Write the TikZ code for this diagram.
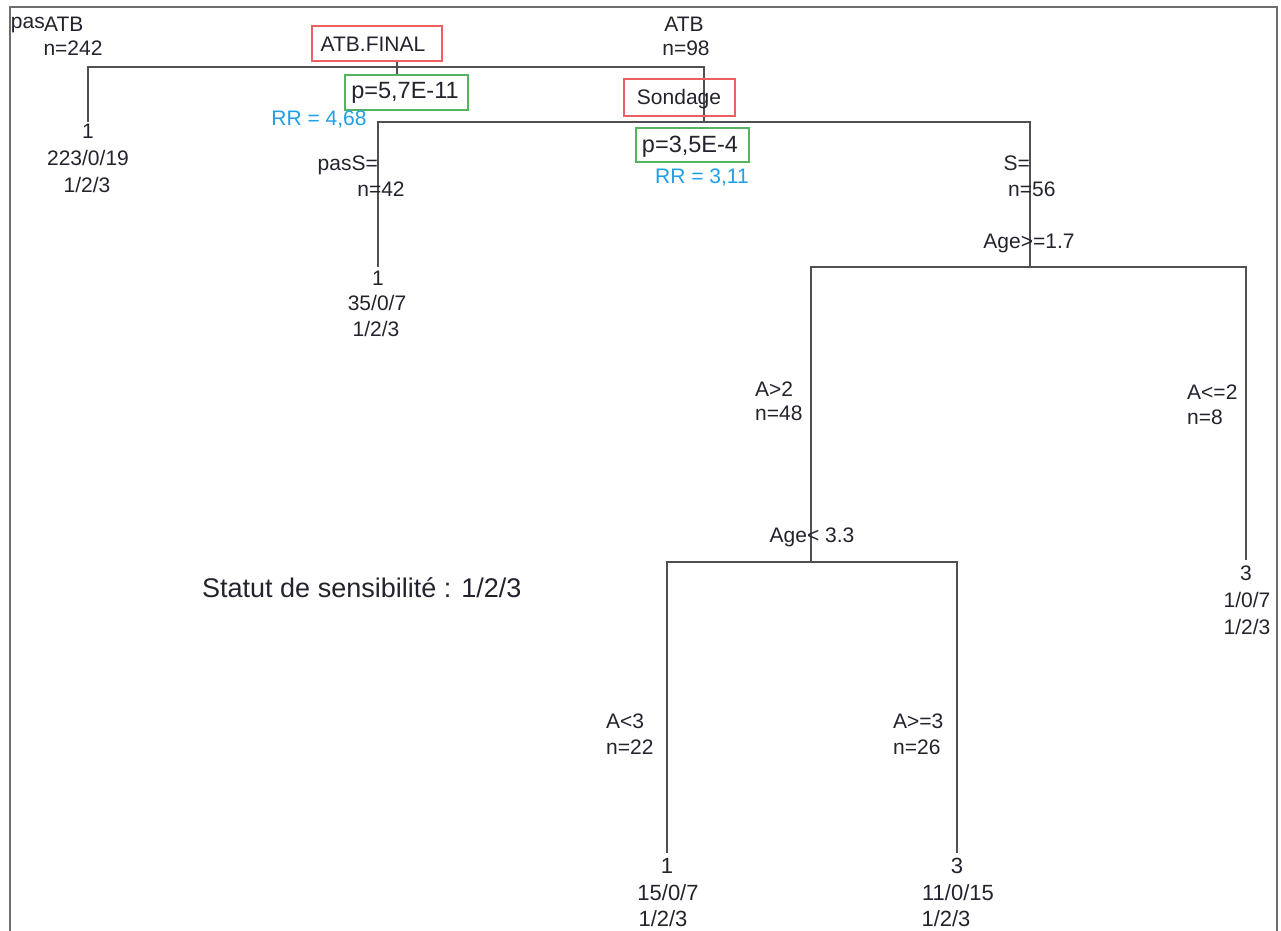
\documentclass[tikz,border=0pt]{standalone}
\usepackage{fontspec}
\setmainfont{Liberation Sans}
\begin{document}
\begin{tikzpicture}[x=1pt,y=-1pt,
  txt/.style={inner sep=0pt,text=txtc,font=\fontsize{21}{24}\selectfont},
  ptxt/.style={inner sep=0pt,text=txtc,font=\fontsize{23.5}{26}\selectfont},
  leaftxt/.style={inner sep=0pt,text=txtc,font=\fontsize{22}{24}\selectfont},
  rrtxt/.style={inner sep=0pt,text=rrblue,font=\fontsize{21}{24}\selectfont},
  redbox/.style={draw=boxred,line width=1.5pt,inner sep=0pt},
  greenbox/.style={draw=boxgreen,line width=1.5pt,inner sep=0pt},
  edge/.style={draw=edgec,line width=2pt},
  framec/.style={draw=framegray,line width=2pt}]
\definecolor{txtc}{RGB}{35,35,45}
\definecolor{rrblue}{RGB}{30,160,230}
\definecolor{boxred}{RGB}{238,95,100}
\definecolor{boxgreen}{RGB}{85,180,95}
\definecolor{edgec}{RGB}{80,80,80}
\definecolor{framegray}{RGB}{110,110,110}
\useasboundingbox (0,0) rectangle (1281,930);
% frame
\draw[framec] (10,935) -- (10,7) -- (1277,7) -- (1277,935);

% junction / end coordinates
\coordinate (root) at (397,67);
\coordinate (l1) at (88,122);
\coordinate (n2) at (704,122);
\coordinate (l2) at (378,267);
\coordinate (n3) at (1030,267);
\coordinate (n4) at (811,562);
\coordinate (l3) at (1246,560);
\coordinate (l4) at (667,853);
\coordinate (l5) at (957,853);

% tree edges
\draw[edge] (l1) -- (l1 |- root) -- (n2 |- root) -- (n2);
\draw[edge] (l2) -- (l2 |- n2) -- (n3 |- n2) -- (n3);
\draw[edge] (n4) -- (n4 |- n3) -- (l3 |- n3) -- (l3);
\draw[edge] (l4) -- (l4 |- n4) -- (l5 |- n4) -- (l5);

% root split boxes
\node[redbox,minimum width=130pt,minimum height=35pt] (atbfinal) at (377,43.5) {};
\node[txt] (atbfinalt) at (373,44) {ATB.FINAL};
\node[greenbox,minimum width=123pt,minimum height=35pt] (p1) at (406.5,92.5) {};
\node[ptxt] (p1t) at (405,93) {p=5,7E-11};
\draw[edge,line width=1.5pt] (root |- atbfinal.south) -- (root |- p1.north);
\node[rrtxt] (rr1) at (319,120) {RR = 4,68};

% top labels
\node[txt,anchor=east] (pas1) at (45,25) {pas};
\node[txt,anchor=west] (atb1) at (44,24) {ATB};
\node[txt] (n242) at (73,48) {n=242};
\node[txt] (atb2) at (684,24) {ATB};
\node[txt] (n98) at (686,48) {n=98};

% Sondage split
\node[redbox,minimum width=111pt,minimum height=37pt] (sond) at (679.5,97.5) {};
\node[txt] (sondt) at (679,99) {Sondage};
\node[greenbox,minimum width=113pt,minimum height=34pt] (p2) at (692.5,145) {};
\node[ptxt] (p2t) at (690,147) {p=3,5E-4};
\node[rrtxt] (rr2) at (702,178) {RR = 3,11};

% leaf 1
\node[txt] (leaf1a) at (88,131) {1};
\node[txt] (leaf1b) at (88,158) {223/0/19};
\node[txt] (leaf1c) at (87,185) {1/2/3};

% pasS branch
\node[txt,anchor=east] (passt) at (378,165) {pasS=};
\node[txt] (n42) at (381,189) {n=42};
\node[txt] (leaf2a) at (378,278) {1};
\node[txt] (leaf2b) at (377,303) {35/0/7};
\node[txt] (leaf2c) at (376,329) {1/2/3};

% S branch
\node[txt,anchor=east] (st) at (1030,163) {S=};
\node[txt,anchor=west] (n56) at (1008,189) {n=56};
\node[txt] (age17) at (1029,243) {Age>=1.7};

% A>2 / A<=2
\node[txt,anchor=west] (ag2) at (755,389) {A>2};
\node[txt,anchor=west] (n48) at (755,413) {n=48};
\node[txt,anchor=west] (al2) at (1187,392) {A<=2};
\node[txt,anchor=west] (n8) at (1187,417) {n=8};
\node[txt] (age33) at (812,537) {Age< 3.3};
\node[txt] (leaf3a) at (1246,573) {3};
\node[txt] (leaf3b) at (1247,600) {1/0/7};
\node[txt] (leaf3c) at (1247,627) {1/2/3};

% A<3 / A>=3
\node[txt,anchor=west] (al3) at (606,721) {A<3};
\node[txt,anchor=west] (n22) at (606,747) {n=22};
\node[txt,anchor=west] (ag3) at (893,721) {A>=3};
\node[txt,anchor=west] (n26) at (893,747) {n=26};
\node[leaftxt] (leaf4a) at (667,866) {1};
\node[leaftxt] (leaf4b) at (668,893) {15/0/7};
\node[leaftxt] (leaf4c) at (663,919) {1/2/3};
\node[leaftxt] (leaf5a) at (957,866) {3};
\node[leaftxt] (leaf5b) at (958,893) {11/0/15};
\node[leaftxt] (leaf5c) at (946,919) {1/2/3};

% legend
\node[inner sep=0pt,text=txtc,font=\fontsize{27}{30}\selectfont,anchor=west] (legend) at (202,588) {Statut de sensibilité : 1/2/3};
\end{tikzpicture}
\end{document}
